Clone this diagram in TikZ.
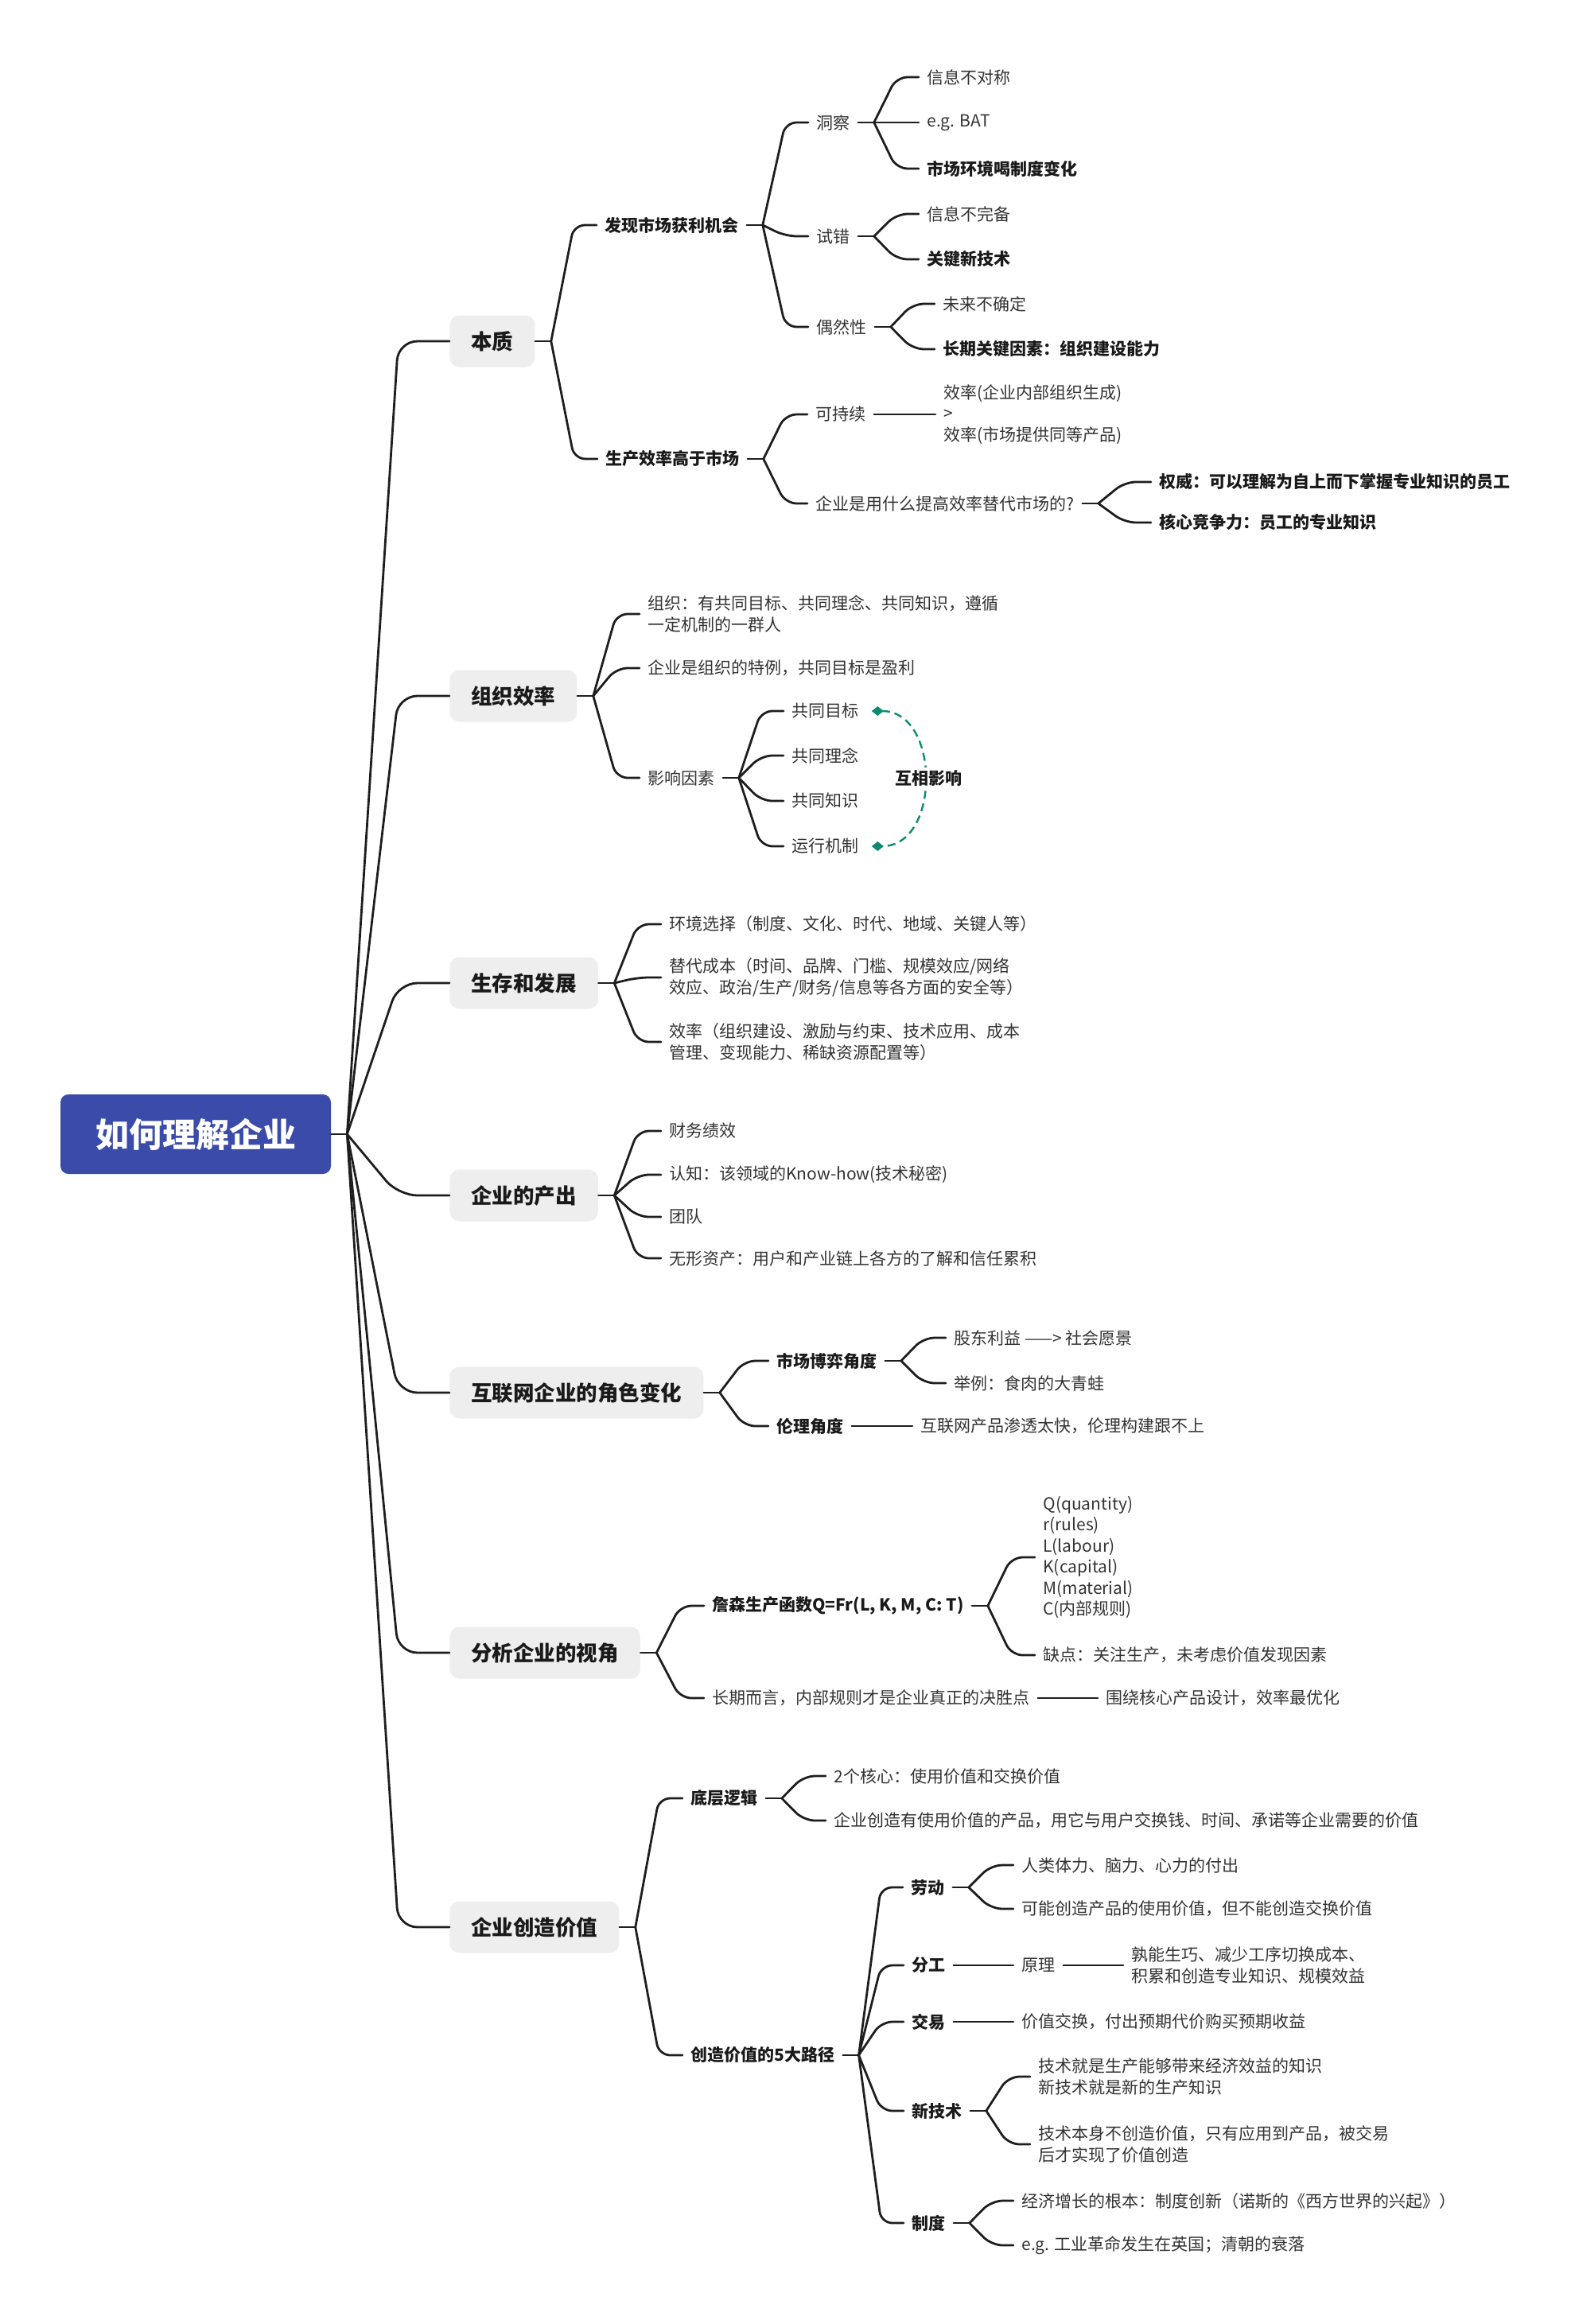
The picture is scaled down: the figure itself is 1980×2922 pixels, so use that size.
\documentclass[tikz,border=0pt]{standalone}
\usepackage{fontspec}
\setmainfont{Noto Sans CJK SC}
\usetikzlibrary{calc,arrows.meta}
\definecolor{rootblue}{HTML}{3A4BAA}
\definecolor{boxgray}{HTML}{EEEEEE}
\definecolor{linec}{HTML}{1E1E1E}
\definecolor{txtc}{HTML}{333333}
\definecolor{boldc}{HTML}{1A1A1A}
\definecolor{relc}{HTML}{0F8A72}
\tikzset{
  conn/.style={draw=linec, line width=1.4pt, line cap=round, line join=round},
  rootbox/.style={fill=rootblue, text=white, rounded corners=5pt, minimum width=170pt, minimum height=50pt, font=\fontsize{21}{25}\selectfont\bfseries},
  lonebox/.style={fill=boxgray, rounded corners=6pt, anchor=west, minimum height=32.5pt, inner xsep=13.5pt, text=boldc, font=\fontsize{13.25}{16}\selectfont\bfseries},
  txt/.style={anchor=west, inner xsep=5pt, inner ysep=1pt, xshift=-5pt, text=txtc, font=\fontsize{10.5}{13.25}\selectfont, align=left},
  btxt/.style={txt, text=boldc, font=\fontsize{10.5}{13.25}\selectfont\bfseries},
  lbl/.style={anchor=center, inner xsep=3pt, inner ysep=2pt, fill=white, text=boldc, font=\fontsize{10.5}{13.25}\selectfont\bfseries},
  rel/.style={draw=relc, line width=1.2pt, dash pattern=on 5pt off 3pt, {Diamond[length=7.5pt,width=6pt]}-{Diamond[length=7.5pt,width=6pt]}},
}
\newcommand\mmstub[1]{\draw[conn] (#1.east) -- ++(10pt,0) coordinate (J#1);}
% elbow connector: straight slant from the junction, rounded bend, horizontal into the child
\newcommand\mmcurve[3][7pt]{%
  \path ($(J#2)!0.5!(#3.west)$) coordinate (mmA);
  \path (mmA |- #3.west) coordinate (mmC);
  \draw[conn, rounded corners=#1] (J#2) -- (mmC) -- (#3.west);}
\begin{document}
\begin{tikzpicture}[x=0.5pt,y=-0.5pt]
\fill[white] (0,0) rectangle (1980,2922);
\useasboundingbox (0,0) rectangle (1980,2922);

% root and main branches
\node[rootbox] (root) at (246,1426) {如何理解企业};
\node[lonebox] (b1) at (565,429) {本质};
\node[lonebox] (b2) at (565,875) {组织效率};
\node[lonebox] (b3) at (565,1236) {生存和发展};
\node[lonebox] (b4) at (565,1503) {企业的产出};
\node[lonebox] (b5) at (565,1751) {互联网企业的角色变化};
\node[lonebox] (b6) at (565,2078) {分析企业的视角};
\node[lonebox] (b7) at (565,2423) {企业创造价值};

% section 1
\node[btxt] (s1a) at (760,283) {发现市场获利机会};
\node[txt] (s1a1) at (1026,154) {洞察};
\node[txt] (s1a1a) at (1165,97) {信息不对称};
\node[txt] (s1a1b) at (1165,154) {e.g. BAT};
\node[btxt] (s1a1c) at (1165,212) {市场环境喝制度变化};
\node[txt] (s1a2) at (1026,297) {试错};
\node[txt] (s1a2a) at (1165,269) {信息不完备};
\node[btxt] (s1a2b) at (1165,326) {关键新技术};
\node[txt] (s1a3) at (1026,411) {偶然性};
\node[txt] (s1a3a) at (1185,382) {未来不确定};
\node[btxt] (s1a3b) at (1185,439) {长期关键因素：组织建设能力};
\node[btxt] (s1b) at (761,577) {生产效率高于市场};
\node[txt] (s1b1) at (1025,521) {可持续};
\node[txt] (s1b1a) at (1186,521) {效率(企业内部组织生成)\\>\\效率(市场提供同等产品)};
\node[txt] (s1b2) at (1025,633) {企业是用什么提高效率替代市场的?};
\node[btxt] (s1b2a) at (1457,606) {权威：可以理解为自上而下掌握专业知识的员工};
\node[btxt] (s1b2b) at (1457,657) {核心竞争力：员工的专业知识};

% section 2
\node[txt] (s2a) at (814,772) {组织：有共同目标、共同理念、共同知识，遵循\\一定机制的一群人};
\node[txt] (s2b) at (814,840) {企业是组织的特例，共同目标是盈利};
\node[txt] (s2c) at (814,978) {影响因素};
\node[txt] (s2c1) at (995,894) {共同目标};
\node[txt] (s2c2) at (995,950) {共同理念};
\node[txt] (s2c3) at (995,1007) {共同知识};
\node[txt] (s2c4) at (995,1064) {运行机制};

% section 3
\node[txt] (s3a) at (841,1162) {环境选择（制度、文化、时代、地域、关键人等）};
\node[txt] (s3b) at (841,1229) {替代成本（时间、品牌、门槛、规模效应/网络\\效应、政治/生产/财务/信息等各方面的安全等）};
\node[txt] (s3c) at (841,1310) {效率（组织建设、激励与约束、技术应用、成本\\管理、变现能力、稀缺资源配置等）};

% section 4
\node[txt] (s4a) at (841,1422) {财务绩效};
\node[txt] (s4b) at (841,1477) {认知：该领域的Know-how(技术秘密)};
\node[txt] (s4c) at (841,1530) {团队};
\node[txt] (s4d) at (841,1582) {无形资产：用户和产业链上各方的了解和信任累积};

% section 5
\node[btxt] (s5a) at (976,1711) {市场博弈角度};
\node[txt] (s5a1) at (1199,1682) {股东利益 ——> 社会愿景};
\node[txt] (s5a2) at (1199,1739) {举例：食肉的大青蛙};
\node[btxt] (s5b) at (976,1793) {伦理角度};
\node[txt] (s5b1) at (1157,1793) {互联网产品渗透太快，伦理构建跟不上};

% section 6
\node[btxt] (s6a) at (895,2019) {詹森生产函数Q=Fr(L, K, M, C: T)};
\node[txt] (s6a1) at (1311,1958) {Q(quantity)\\r(rules)\\L(labour)\\K(capital)\\M(material)\\C(内部规则)};
\node[txt] (s6a2) at (1311,2081) {缺点：关注生产，未考虑价值发现因素};
\node[txt] (s6b) at (895,2135) {长期而言，内部规则才是企业真正的决胜点};
\node[txt] (s6b1) at (1390,2135) {围绕核心产品设计，效率最优化};

% section 7
\node[btxt] (s7a) at (868,2261) {底层逻辑};
\node[txt] (s7a1) at (1048,2233) {2个核心：使用价值和交换价值};
\node[txt] (s7a2) at (1048,2289) {企业创造有使用价值的产品，用它与用户交换钱、时间、承诺等企业需要的价值};
\node[btxt] (s7b) at (868,2584) {创造价值的5大路径};
\node[btxt] (s7b1) at (1145,2373) {劳动};
\node[txt] (s7b1a) at (1284,2345) {人类体力、脑力、心力的付出};
\node[txt] (s7b1b) at (1284,2400) {可能创造产品的使用价值，但不能创造交换价值};
\node[btxt] (s7b2) at (1146,2471) {分工};
\node[txt] (s7b2a) at (1284,2471) {原理};
\node[txt] (s7b2b) at (1422,2471) {孰能生巧、减少工序切换成本、\\积累和创造专业知识、规模效益};
\node[btxt] (s7b3) at (1146,2542) {交易};
\node[txt] (s7b3a) at (1284,2542) {价值交换，付出预期代价购买预期收益};
\node[btxt] (s7b4) at (1146,2654) {新技术};
\node[txt] (s7b4a) at (1305,2611) {技术就是生产能够带来经济效益的知识\\新技术就是新的生产知识};
\node[txt] (s7b4b) at (1305,2696) {技术本身不创造价值，只有应用到产品，被交易\\后才实现了价值创造};
\node[btxt] (s7b5) at (1146,2795) {制度};
\node[txt] (s7b5a) at (1284,2767) {经济增长的根本：制度创新（诺斯的《西方世界的兴起》）};
\node[txt] (s7b5b) at (1284,2823) {e.g. 工业革命发生在英国；清朝的衰落};

% connectors
\mmstub{root}
\foreach \b in {b1,b2,b3,b4,b5,b6,b7} {\mmcurve[12pt]{root}{\b}}

\mmstub{b1} \mmcurve{b1}{s1a} \mmcurve{b1}{s1b}
\mmstub{s1a} \mmcurve{s1a}{s1a1} \mmcurve{s1a}{s1a2} \mmcurve{s1a}{s1a3}
\mmstub{s1a1} \mmcurve{s1a1}{s1a1a} \mmcurve{s1a1}{s1a1b} \mmcurve{s1a1}{s1a1c}
\mmstub{s1a2} \mmcurve{s1a2}{s1a2a} \mmcurve{s1a2}{s1a2b}
\mmstub{s1a3} \mmcurve{s1a3}{s1a3a} \mmcurve{s1a3}{s1a3b}
\mmstub{s1b} \mmcurve{s1b}{s1b1} \mmcurve{s1b}{s1b2}
\draw[conn] (s1b1.east) -- (s1b1a.west);
\mmstub{s1b2} \mmcurve{s1b2}{s1b2a} \mmcurve{s1b2}{s1b2b}

\mmstub{b2} \mmcurve{b2}{s2a} \mmcurve{b2}{s2b} \mmcurve{b2}{s2c}
\mmstub{s2c} \mmcurve{s2c}{s2c1} \mmcurve{s2c}{s2c2} \mmcurve{s2c}{s2c3} \mmcurve{s2c}{s2c4}
\draw[rel] ([xshift=3pt]s2c1.east) .. controls +(87,0) and +(87,0) .. ([xshift=3pt]s2c4.east)
  node[lbl, pos=0.5, xshift=3pt] (s2r) {互相影响};

\mmstub{b3} \mmcurve{b3}{s3a} \mmcurve{b3}{s3b} \mmcurve{b3}{s3c}

\mmstub{b4} \mmcurve{b4}{s4a} \mmcurve{b4}{s4b} \mmcurve{b4}{s4c} \mmcurve{b4}{s4d}

\mmstub{b5} \mmcurve{b5}{s5a} \mmcurve{b5}{s5b}
\mmstub{s5a} \mmcurve{s5a}{s5a1} \mmcurve{s5a}{s5a2}
\draw[conn] (s5b.east) -- (s5b1.west);

\mmstub{b6} \mmcurve{b6}{s6a} \mmcurve{b6}{s6b}
\mmstub{s6a} \mmcurve{s6a}{s6a1} \mmcurve{s6a}{s6a2}
\draw[conn] (s6b.east) -- (s6b1.west);

\mmstub{b7} \mmcurve{b7}{s7a} \mmcurve{b7}{s7b}
\mmstub{s7a} \mmcurve{s7a}{s7a1} \mmcurve{s7a}{s7a2}
\mmstub{s7b} \mmcurve{s7b}{s7b1} \mmcurve{s7b}{s7b2} \mmcurve{s7b}{s7b3} \mmcurve{s7b}{s7b4} \mmcurve{s7b}{s7b5}
\mmstub{s7b1} \mmcurve{s7b1}{s7b1a} \mmcurve{s7b1}{s7b1b}
\draw[conn] (s7b2.east) -- (s7b2a.west);
\draw[conn] (s7b2a.east) -- (s7b2b.west);
\draw[conn] (s7b3.east) -- (s7b3a.west);
\mmstub{s7b4} \mmcurve{s7b4}{s7b4a} \mmcurve{s7b4}{s7b4b}
\mmstub{s7b5} \mmcurve{s7b5}{s7b5a} \mmcurve{s7b5}{s7b5b}
\end{tikzpicture}
\end{document}
